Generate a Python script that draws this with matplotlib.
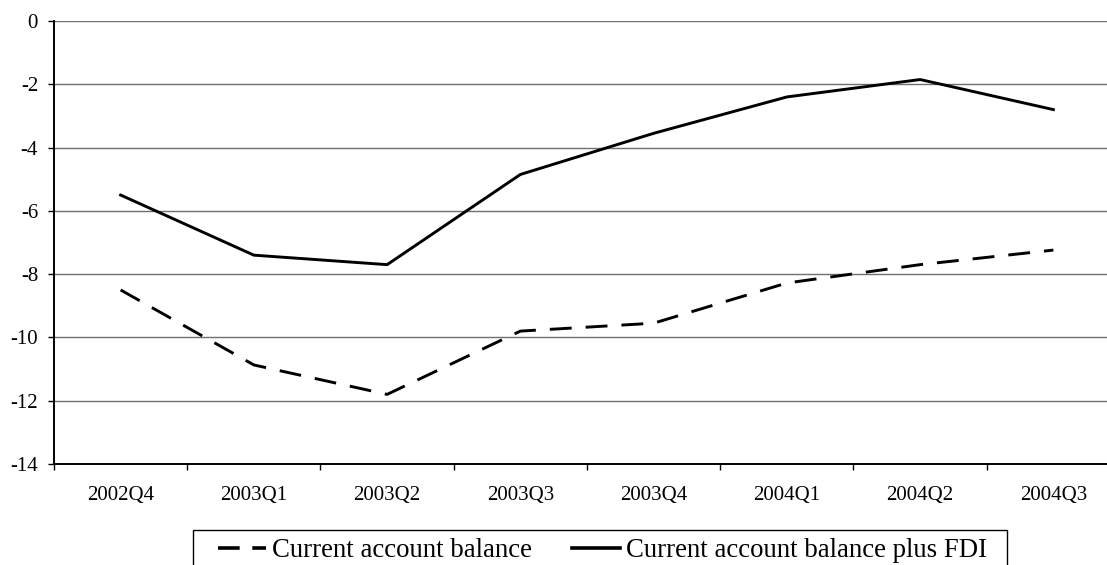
import matplotlib.pyplot as plt
from matplotlib.patches import Rectangle
import numpy as np

plt.rcParams['font.family'] = ['Liberation Serif', 'DejaVu Serif']
plt.rcParams['axes.unicode_minus'] = False

quarters = ["2002Q4", "2003Q1", "2003Q2", "2003Q3", "2003Q4", "2004Q1", "2004Q2", "2004Q3"]
ca_balance = [-8.5, -10.87, -11.8, -9.8, -9.55, -8.28, -7.7, -7.24]
ca_plus_fdi = [-5.5, -7.4, -7.7, -4.85, -3.55, -2.4, -1.85, -2.8]

W, H = 1107, 565
fig = plt.figure(figsize=(W / 100, H / 100), dpi=100)
# plot area runs past the right edge of the picture, as in the source
ax = fig.add_axes([54 / W, 1 - 464 / H, (1120 - 54) / W, (464 - 21) / H])

x = np.arange(len(quarters))
ax.plot(x, ca_balance, color='black', lw=2.1, dashes=(7.5, 4.8), label="Current account balance")
ax.plot(x, ca_plus_fdi, color='black', lw=2.1, label="Current account balance plus FDI")

ax.set_xlim(-0.5, len(quarters) - 0.5)
ax.set_ylim(-14, 0)
ax.set_yticks(np.arange(-14, 1, 2))
ax.yaxis.grid(True, color='#707070', lw=1)
ax.set_axisbelow(True)

ax.set_xticks(x)
ax.set_xticklabels(quarters)
ax.set_xticks(np.arange(-0.5, len(quarters), 1), minor=True)
ax.tick_params(axis='x', which='major', length=0, pad=16, labelsize=15)
ax.tick_params(axis='x', which='minor', length=4.5, width=1, direction='out')
ax.tick_params(axis='y', length=4.5, width=1, labelsize=15, pad=7)

for s in ['top', 'right']:
    ax.spines[s].set_visible(False)
ax.spines['left'].set_linewidth(1.4)
ax.spines['bottom'].set_linewidth(1.4)

leg = fig.legend(loc='upper left', bbox_to_anchor=(218 / W, 1 - 538 / H), ncol=2,
                 fontsize=19.3, frameon=False, borderpad=0, borderaxespad=0,
                 handlelength=1.8, handletextpad=0.22, columnspacing=1.5)
lines = leg.get_lines()
for h in lines:
    h.set_linewidth(2.6)
lines[0].set_dashes((6, 3.5))

# legend box, cut off by the bottom edge like in the source
fig.patches.append(Rectangle((193 / W, -0.1), (1007 - 193) / W, 0.1 + 1 - 530 / H,
                             transform=fig.transFigure, fill=False, edgecolor='black', lw=1))

fig.savefig("out.png", dpi=100)
